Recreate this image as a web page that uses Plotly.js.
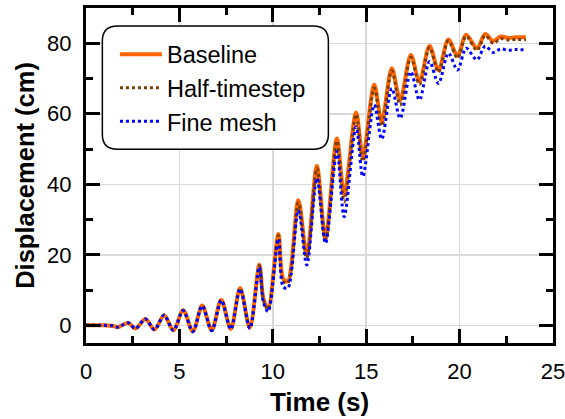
<!DOCTYPE html>
<html>
<head>
<meta charset="utf-8">
<script src="https://cdn.plot.ly/plotly-3.0.1.min.js"></script>
<style>html,body{margin:0;padding:0;background:#fff;}#chart{width:565px;height:419px;}</style>
</head>
<body>
<div id="chart"></div>
<script>
// Time keypoints (s)
var timeS = [0, 0.5, 1.0, 1.4, 1.7, 1.95, 2.27, 2.65, 3.18, 3.67, 4.18, 4.68, 5.2, 5.72, 6.22, 6.73, 7.24, 7.75, 8.25, 8.77,
  9.28, 9.5, 9.75, 10.3, 10.55, 10.8, 11.37, 11.82, 12.36, 12.82, 13.43, 13.82, 14.46, 14.82, 15.43, 15.83,
  16.37, 16.82, 17.39, 17.85, 18.39, 18.87, 19.4, 19.89, 20.35, 20.93, 21.37, 21.8, 22.2, 22.6, 23.0, 23.55];

// Displacement (cm)
var baseline = [0, 0, 0, -0.1, -0.5, 0.1, 0.7, -0.9, 1.8, -1.2, 2.9, -1.4, 4.3, -1.7, 5.6, -1.4, 7.3, -1.0, 10.6, -0.6,
  17.2, 7.5, 4.8, 25.9, 13.3, 12.5, 35.5, 19.9, 45.2, 24.7, 53.0, 37.0, 60.4, 47.8, 68.2, 57.8,
  72.9, 63.9, 76.7, 69.1, 79.2, 72.4, 81.1, 76.4, 82.4, 78.6, 82.6, 80.6, 81.9, 81.5, 81.7, 81.7];

var halfTimestep = [0, 0, 0, -0.1, -0.5, 0.1, 0.7, -0.9, 1.8, -1.2, 2.9, -1.4, 4.3, -1.7, 5.6, -1.4, 7.2, -1.0, 10.5, -0.7,
  17.0, 7.3, 4.5, 25.5, 12.5, 12.0, 34.8, 19.0, 44.5, 24.2, 52.3, 35.0, 59.8, 46.5, 67.3, 56.5,
  72.2, 62.5, 76.0, 68.3, 78.8, 71.8, 80.7, 75.8, 82.0, 78.0, 82.2, 80.0, 81.3, 80.9, 81.1, 81.0];

var fineMesh = [0, 0, 0, -0.1, -0.5, 0.1, 0.7, -0.9, 1.8, -1.2, 2.9, -1.4, 4.2, -1.8, 5.5, -1.5, 7.1, -1.1, 10.3, -0.9,
  16.5, 6.5, 3.9, 24.5, 11.0, 10.5, 32.7, 17.1, 41.7, 23.3, 49.3, 30.8, 56.3, 42.2, 62.5, 52.8,
  67.2, 58.7, 71.9, 63.9, 74.8, 68.6, 77.2, 72.4, 78.6, 75.3, 79.2, 77.4, 78.4, 78.0, 78.2, 78.1];

var seriesNames = ['Baseline', 'Half-timestep', 'Fine mesh'];
var xTickVals = [0, 5, 10, 15, 20, 25];
var yTickVals = [0, 20, 40, 60, 80];

var fam = 'Liberation Sans, Arial, sans-serif';

var traces = [
  {x: timeS, y: baseline, name: seriesNames[0], mode: 'lines',
   line: {color: '#ff6600', width: 4, shape: 'spline', smoothing: 0.9}},
  {x: timeS, y: halfTimestep, name: seriesNames[1], mode: 'lines',
   line: {color: '#7a3c00', width: 3, dash: 'dot', shape: 'spline', smoothing: 0.9}},
  {x: timeS, y: fineMesh, name: seriesNames[2], mode: 'lines',
   line: {color: '#0000ff', width: 3, dash: 'dot', shape: 'spline', smoothing: 0.9}}
];

// legend box (rounded) in paper coordinates
var bx0 = 0.035, bx1 = 0.519, by0 = 0.578, by1 = 0.946;
var rx = 15 / 466.7, ry = 15 / 334.7;
var boxPath = 'M' + (bx0 + rx) + ',' + by1 +
  ' L' + (bx1 - rx) + ',' + by1 + ' Q' + bx1 + ',' + by1 + ' ' + bx1 + ',' + (by1 - ry) +
  ' L' + bx1 + ',' + (by0 + ry) + ' Q' + bx1 + ',' + by0 + ' ' + (bx1 - rx) + ',' + by0 +
  ' L' + (bx0 + rx) + ',' + by0 + ' Q' + bx0 + ',' + by0 + ' ' + bx0 + ',' + (by0 + ry) +
  ' L' + bx0 + ',' + (by1 - ry) + ' Q' + bx0 + ',' + by1 + ' ' + (bx0 + rx) + ',' + by1 + ' Z';

var axisCommon = {
  showline: true, linecolor: '#000', linewidth: 3, mirror: 'allticks',
  ticks: 'inside', ticklen: 14, tickwidth: 3, tickcolor: '#000',
  showgrid: true, gridcolor: '#d9d9d9', gridwidth: 1.5,
  zeroline: false, ticklabelstandoff: 7, ticklabeloverflow: 'allow',
  tickfont: {family: fam, size: 22, color: '#000'}
};

var layout = {
  width: 565, height: 419,
  margin: {l: 86, r: 12, t: 8, b: 76},
  paper_bgcolor: '#fff', plot_bgcolor: '#fff',
  showlegend: true,
  xaxis: Object.assign({}, axisCommon, {
    range: [0, 25], tickvals: xTickVals,
    minor: {ticks: 'inside', ticklen: 7, tickwidth: 3, tickcolor: '#000', dtick: 2.5, tick0: 0, showgrid: false},
    title: {text: 'Time (s)', font: {family: fam, size: 26, weight: 'bold', color: '#000'}, standoff: 10}
  }),
  yaxis: Object.assign({}, axisCommon, {
    range: [-5, 90], tickvals: yTickVals,
    minor: {ticks: 'inside', ticklen: 7, tickwidth: 3, tickcolor: '#000', dtick: 10, tick0: 0, showgrid: false},
    title: {text: 'Displacement (cm)', font: {family: fam, size: 25.5, weight: 'bold', color: '#000'}, standoff: 6}
  }),
  legend: {
    x: 0.062, y: 0.927, xanchor: 'left', yanchor: 'top',
    bgcolor: 'rgba(0,0,0,0)', borderwidth: 0,
    font: {family: fam, size: 23.5, color: '#000'},
    itemwidth: 42
  },
  shapes: [{type: 'path', xref: 'paper', yref: 'paper', path: boxPath,
    line: {color: '#000', width: 1.5}, fillcolor: '#fff', layer: 'above'}]
};

Plotly.newPlot('chart', traces, layout, {staticPlot: true, displayModeBar: false});
</script>
</body>
</html>
